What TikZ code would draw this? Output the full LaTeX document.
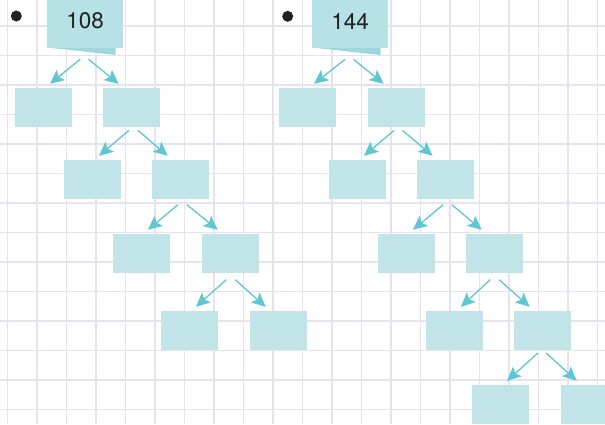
\documentclass[tikz,border=0pt]{standalone}
\usepackage{fontspec}
\setmainfont{TeX Gyre Heros}
\usetikzlibrary{arrows.meta,calc}
\definecolor{gridc}{HTML}{E6E2F0}
\definecolor{boxc}{HTML}{C0E4E8}
\definecolor{topc}{HTML}{B6E1E6}
\definecolor{shadc}{HTML}{9FD7DD}
\definecolor{arrc}{HTML}{5EC7D1}
\definecolor{txtc}{HTML}{222222}
\tikzset{
  cell/.style={fill=boxc, draw=none, minimum width=57pt, minimum height=38.7pt, inner sep=0pt, anchor=north west},
  topbox/.style={fill=topc, draw=none, minimum width=76pt, minimum height=52.7pt, inner sep=0pt, anchor=south west,
     text=txtc, font=\fontsize{22.5}{26}\selectfont},
  arr/.style={draw=arrc, line width=1.3pt, -{Stealth[length=14pt,width=13pt,inset=3pt]}},
  bulletdot/.style={circle, fill=txtc, minimum size=11pt, inner sep=0pt},
  gridline/.style={draw=gridc, line width=1.4pt}
}
\newcommand\kidarrows[6]{%
  \draw[arr] ($(#1.south)+(#4,#6)$) -- ($(#2.north)+(6.3,-4.2)$);
  \draw[arr] ($(#1.south)+(#5,#6)$) -- ($(#3.north)+(-13,-4.2)$);}
\begin{document}
\begin{tikzpicture}[x=1pt,y=-1pt]
\useasboundingbox (0,0) rectangle (605,424);
\fill[white] (0,0) rectangle (605,424);
% grid
\foreach \k in {0,...,20} {\draw[gridline] ({7.5+29.5*\k},0) -- ({7.5+29.5*\k},424);}
\foreach \k in {0,...,13} {\draw[gridline] (0,{26+29.5*\k}) -- (605,{26+29.5*\k});}
% bullets
\node[bulletdot] (dot1) at (16.3,16) {};
\node[bulletdot] (dot2) at (287.7,16.3) {};
% top boxes
\fill[shadc] (49,47.7) -- (115.7,55) -- (115.7,47.7) -- cycle;
\node[topbox] (t1) at (47,47.7) {108};
\fill[shadc] (314,47.7) -- (380.7,55) -- (380.7,47.7) -- cycle;
\node[topbox] (t2) at (312,47.7) {144};
% left tree
\node[cell] (a1l) at (15,88) {};
\node[cell] (a1r) at (103,88) {};
\node[cell] (a2l) at (64,160) {};
\node[cell] (a2r) at (152,160) {};
\node[cell] (a3l) at (113,234) {};
\node[cell] (a3r) at (202,234) {};
\node[cell] (a4l) at (161,311) {};
\node[cell] (a4r) at (250,311) {};
% right tree
\node[cell] (b1l) at (279,88) {};
\node[cell] (b1r) at (368,88) {};
\node[cell] (b2l) at (329,160) {};
\node[cell] (b2r) at (417,160) {};
\node[cell] (b3l) at (378,234) {};
\node[cell] (b3r) at (466,234) {};
\node[cell] (b4l) at (426,311) {};
\node[cell] (b4r) at (514,311) {};
\node[cell] (b5l) at (472,385) {};
\node[cell] (b5r) at (561,385) {};
% arrows
\kidarrows{t1}{a1l}{a1r}{-5}{3.3}{11.6}
\kidarrows{a1r}{a2l}{a2r}{-2.8}{6.2}{3.3}
\kidarrows{a2r}{a3l}{a3r}{-2.8}{6.2}{5.6}
\kidarrows{a3r}{a4l}{a4r}{-4.5}{4.5}{6.6}
\kidarrows{t2}{b1l}{b1r}{-5}{3.3}{11.6}
\kidarrows{b1r}{b2l}{b2r}{-2.5}{5.8}{3.3}
\kidarrows{b2r}{b3l}{b3r}{-2.5}{6.2}{5.6}
\kidarrows{b3r}{b4l}{b4r}{-4.5}{4.5}{6.6}
\kidarrows{b4r}{b5l}{b5r}{-4.8}{3.5}{3}
\end{tikzpicture}
\end{document}
